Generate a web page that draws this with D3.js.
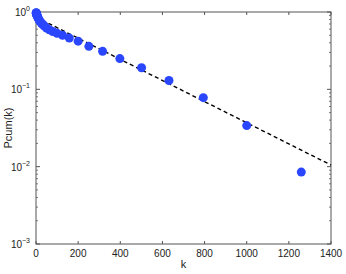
<!DOCTYPE html>
<html><head><meta charset="utf-8">
<script src="https://cdn.jsdelivr.net/npm/d3@7"></script>
<style>body{margin:0;background:#fff}svg{display:block;font-family:"Liberation Sans",Arial,sans-serif}</style>
</head><body><svg id="c" width="346" height="274"></svg>
<script>
const kValues = [1,1.26,1.58,2,2.51,3.16,3.98,5.01,6.31,7.94,10,12.6,15.8,20,25.1,31.6,39.8,50.1,63.1,79.4,100,126,158,200,251,316,398,501,631,794,1000,1259];
const pcumValues = [0.98,0.97,0.96,0.95,0.94,0.93,0.92,0.9,0.88,0.86,0.84,0.81,0.78,0.75,0.72,0.69,0.66,0.62,0.59,0.56,0.53,0.5,0.46,0.42,0.36,0.31,0.25,0.19,0.13,0.078,0.034,0.0085];
const fitK = [0,1400];
const fitP = [0.86,0.0105];
const xTicks = [0,200,400,600,800,1000,1200,1400];
const yDecades = [0,-1,-2,-3];

const svg = d3.select("#c");
const m = {l:36,r:331,t:12,b:244};
const x = d3.scaleLinear().domain([0,1400]).range([m.l,m.r]);
const y = d3.scaleLog().domain([1e-3,1]).range([m.b,m.t]);
const axisCol = "#555";

// frame
svg.append("rect").attr("x",m.l).attr("y",m.t).attr("width",m.r-m.l).attr("height",m.b-m.t)
  .attr("fill","none").attr("stroke",axisCol).attr("stroke-width",1);

// x ticks
const gx = svg.append("g");
xTicks.forEach(t=>{
  gx.append("line").attr("x1",x(t)).attr("x2",x(t)).attr("y1",m.b).attr("y2",m.b-3).attr("stroke",axisCol);
  gx.append("line").attr("x1",x(t)).attr("x2",x(t)).attr("y1",m.t).attr("y2",m.t+3).attr("stroke",axisCol);
  gx.append("text").attr("x",x(t)).attr("y",m.b+13).attr("text-anchor","middle")
    .attr("font-size",10).attr("fill","#222").text(t);
});
// y ticks
const gy = svg.append("g");
yDecades.forEach(d=>{
  const v = Math.pow(10,d);
  gy.append("line").attr("x1",m.l).attr("x2",m.l+4).attr("y1",y(v)).attr("y2",y(v)).attr("stroke",axisCol);
  gy.append("line").attr("x1",m.r).attr("x2",m.r-4).attr("y1",y(v)).attr("y2",y(v)).attr("stroke",axisCol);
  const t = gy.append("text").attr("x",m.l-6).attr("y",y(v)+4).attr("text-anchor","end")
    .attr("font-size",10).attr("fill","#222");
  t.append("tspan").text("10");
  t.append("tspan").attr("dy",-5).attr("font-size",7).text(String(d).replace("-","\u2212"));
  if (d>-3) for(let i=2;i<=9;i++){
    const mv = v/10*i;
    gy.append("line").attr("x1",m.l).attr("x2",m.l+2).attr("y1",y(mv)).attr("y2",y(mv)).attr("stroke",axisCol).attr("stroke-width",0.8);
    gy.append("line").attr("x1",m.r).attr("x2",m.r-2).attr("y1",y(mv)).attr("y2",y(mv)).attr("stroke",axisCol).attr("stroke-width",0.8);
  }
});

// fit line
svg.append("path").datum(fitK.map((k,i)=>[k,fitP[i]]))
  .attr("d",d3.line().x(d=>x(d[0])).y(d=>y(d[1])))
  .attr("fill","none").attr("stroke","#000").attr("stroke-width",1.4).attr("stroke-dasharray","4,3");

// points
svg.append("g").selectAll("circle").data(kValues.map((k,i)=>[k,pcumValues[i]])).join("circle")
  .attr("cx",d=>x(d[0])).attr("cy",d=>y(d[1])).attr("r",4.5).attr("fill","#2a46ff");

// labels
svg.append("text").attr("x",(m.l+m.r)/2).attr("y",268).attr("text-anchor","middle")
  .attr("font-size",11).attr("fill","#222").text("k");
svg.append("text").attr("transform",`translate(12,${(m.t+m.b)/2}) rotate(-90)`).attr("text-anchor","middle")
  .attr("font-size",11).attr("fill","#222").text("Pcum(k)");
</script></body></html>
